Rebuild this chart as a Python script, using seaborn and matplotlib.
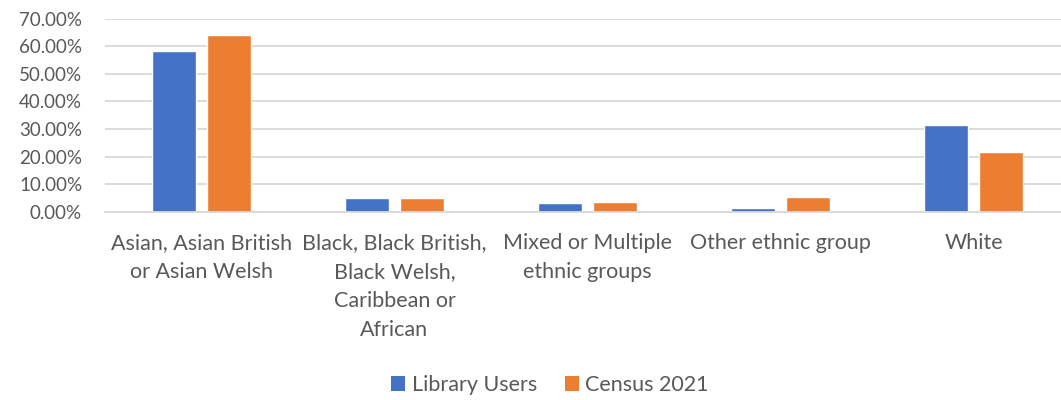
import matplotlib
matplotlib.use("Agg")
import matplotlib.pyplot as plt
import seaborn as sns
import pandas as pd
from matplotlib.ticker import FuncFormatter
from matplotlib.patches import Patch

categories = [
    "Asian, Asian British\nor Asian Welsh",
    "Black, Black British,\nBlack Welsh,\nCaribbean or\nAfrican",
    "Mixed or Multiple\nethnic groups",
    "Other ethnic group",
    "White",
]
library_users = [58.1, 4.9, 3.4, 1.6, 31.3]
census_2021 = [64.0, 4.9, 3.5, 5.3, 21.7]
series_names = ["Library Users", "Census 2021"]
colors = ["#4472C4", "#ED7D31"]
yticks = [0, 10, 20, 30, 40, 50, 60, 70]

df = pd.DataFrame({
    "category": categories * 2,
    "series": [series_names[0]] * len(categories) + [series_names[1]] * len(categories),
    "value": library_users + census_2021,
})

sns.set_theme(style="white")
plt.rcParams["font.family"] = ["Lato", "DejaVu Sans"]
text_color = "#595959"

fig = plt.figure(figsize=(10.61, 4.0), dpi=100)
ax = fig.add_axes([105 / 1061, 1 - 212 / 400, (1061 - 105) / 1061, (212 - 18.5) / 400])

sns.barplot(data=df, x="category", y="value", hue="series", palette=colors,
            order=categories, hue_order=series_names, width=0.57, gap=0.2,
            ax=ax, legend=False, saturation=1)

ax.set_xlim(-0.5, 4.5 - 9 / 193)
ax.set_ylim(0, 70)
ax.set_yticks(yticks)
ax.yaxis.set_major_formatter(FuncFormatter(lambda v, p: f"{v:.2f}%"))
ax.grid(axis="y", color="#D9D9D9", linewidth=1.3)
ax.set_axisbelow(True)
for s in ["top", "right", "left"]:
    ax.spines[s].set_visible(False)
ax.spines["bottom"].set_color("#D9D9D9")
ax.spines["bottom"].set_linewidth(1.3)
ax.set_xlabel("")
ax.set_ylabel("")
ax.tick_params(axis="y", length=0, pad=16.5, labelsize=13.5, labelcolor=text_color)
ax.tick_params(axis="x", length=0, pad=15, labelsize=15.5, labelcolor=text_color)
for lbl in ax.get_xticklabels():
    lbl.set_linespacing(1.57)
    lbl.set_verticalalignment("top")

handles = [Patch(facecolor=c, edgecolor="none") for c in colors]
fig.legend(handles, series_names, loc="center", bbox_to_anchor=(550 / 1061, 1 - 385 / 400),
           ncol=2, frameon=False, fontsize=15.5, labelcolor=text_color,
           handlelength=0.65, handleheight=0.65, handletextpad=0.3, columnspacing=1.3)

fig.savefig("out.png", dpi=100)
